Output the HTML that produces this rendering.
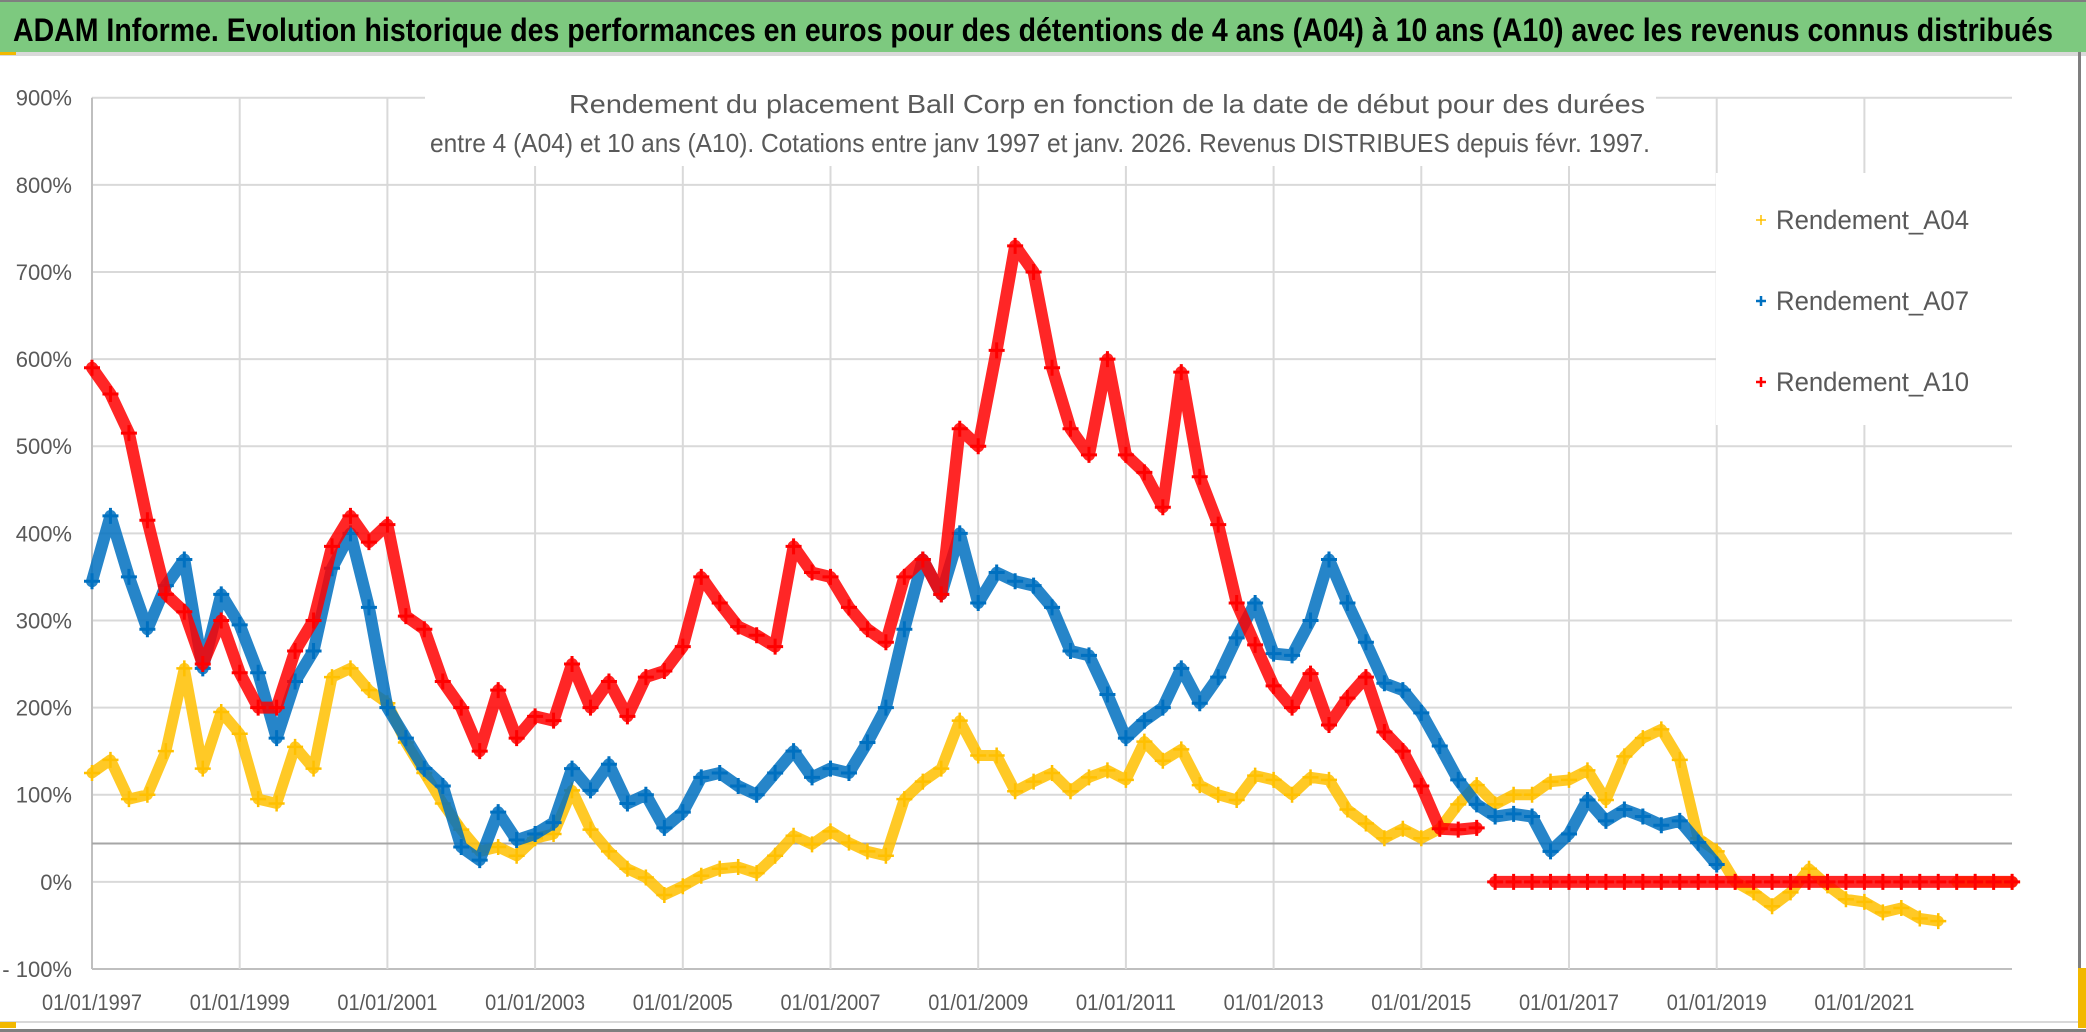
<!DOCTYPE html>
<html><head><meta charset="utf-8"><style>
html,body{margin:0;padding:0;background:#fff;}
svg{display:block;font-family:"Liberation Sans",sans-serif;}
</style></head><body>
<svg id="chart" width="2086" height="1032" viewBox="0 0 2086 1032" xmlns="http://www.w3.org/2000/svg">
<rect x="0" y="0" width="2086" height="1032" fill="#fff"/>
<rect x="0" y="0" width="2086" height="52" fill="#7dc97f"/>
<rect x="0" y="0" width="2086" height="2" fill="#7f7f7f"/>
<rect x="0" y="52" width="2086" height="4" fill="#d9d9d9"/>
<rect x="0" y="52" width="16" height="3" fill="#f2b800"/>
<text x="13" y="41" font-size="32" font-weight="bold" fill="#000" textLength="2040" lengthAdjust="spacingAndGlyphs">ADAM Informe. Evolution historique des performances en euros pour des détentions de 4 ans (A04) à 10 ans (A10) avec les revenus connus distribués</text>
<g id="grid"></g>
<g id="series"></g>
<rect x="425" y="80" width="1231" height="86" fill="#fff"/>
<text x="569" y="113" font-size="26" fill="#595959" textLength="1076" lengthAdjust="spacingAndGlyphs">Rendement du placement Ball Corp en fonction de la date de début pour des durées</text>
<text x="430" y="152" font-size="26" fill="#595959" textLength="1220" lengthAdjust="spacingAndGlyphs">entre 4 (A04) et 10 ans (A10). Cotations entre janv 1997 et janv. 2026. Revenus DISTRIBUES depuis févr. 1997.</text>
<rect x="1716" y="173" width="306" height="252" fill="#fff"/>
<g>
<path d="M1756 220h10M1761 215v10" stroke="#ffc000" stroke-width="1.5"/>
<text x="1776" y="229" font-size="27" fill="#595959" textLength="193" lengthAdjust="spacingAndGlyphs">Rendement_A04</text></g>
<g>
<path d="M1756 301h10M1761 296v10" stroke="#0070c0" stroke-width="2.5"/>
<text x="1776" y="310" font-size="27" fill="#595959" textLength="193" lengthAdjust="spacingAndGlyphs">Rendement_A07</text></g>
<g>
<path d="M1756 382h10M1761 377v10" stroke="#ff0000" stroke-width="2.5"/>
<text x="1776" y="391" font-size="27" fill="#595959" textLength="193" lengthAdjust="spacingAndGlyphs">Rendement_A10</text></g>
<rect x="0" y="1021" width="2086" height="2" fill="#d9d9d9"/>
<rect x="0" y="1029" width="2086" height="3" fill="#7f7f7f"/>
<rect x="0" y="1022" width="16" height="6" fill="#f2b800"/>
<rect x="2078" y="52" width="3" height="970" fill="#7f7f7f"/>
<rect x="2078" y="968" width="8" height="60" fill="#f2b800"/>
</svg>
<script>
// ---- data ----
const yTicks = [900,800,700,600,500,400,300,200,100,0,-100];
const yTickLabels = ["900%","800%","700%","600%","500%","400%","300%","200%","100%","0%","- 100%"];
const xTickYears = [1997,1999,2001,2003,2005,2007,2009,2011,2013,2015,2017,2019,2021];
const xTickLabels = ["01/01/1997","01/01/1999","01/01/2001","01/01/2003","01/01/2005","01/01/2007","01/01/2009","01/01/2011","01/01/2013","01/01/2015","01/01/2017","01/01/2019","01/01/2021"];
const refLineValue = 44;
const a04Start = 1997.0;
const a04Values = [125,140,95,100,150,245,130,195,170,95,90,155,130,235,245,220,205,160,125,90,60,35,40,30,50,55,105,60,35,15,5,-15,-5,7,15,17,10,30,53,43,58,45,35,30,95,115,130,185,145,145,104,115,125,104,120,128,117,161,139,152,111,100,94,122,117,100,120,117,83,67,50,61,50,61,89,111,89,100,100,115,117,128,94,144,165,175,140,50,35,0,-12,-28,-12,15,-4,-20,-23,-35,-30,-42,-45,0,0,0,0];
const a07Start = 1997.0;
const a07Values = [345,420,350,290,340,370,245,330,295,240,165,230,265,360,400,315,200,165,130,110,40,25,80,48,55,68,130,105,135,90,100,62,80,120,125,110,100,125,150,120,130,125,160,200,290,370,330,400,320,355,345,340,315,265,260,215,165,185,200,245,205,235,280,320,262,260,300,370,320,275,228,220,194,156,117,89,75,78,75,35,55,94,70,83,75,65,70,45,20];
const a10Start = 1997.0;
const a10Values = [590,560,515,415,330,310,250,300,240,200,200,265,300,385,420,390,410,305,290,230,200,150,220,165,190,185,250,200,230,190,235,242,270,350,320,293,283,270,385,355,350,315,290,275,350,370,330,520,500,610,730,700,590,520,490,600,490,470,430,585,465,410,320,272,225,200,239,180,211,235,172,150,110,61,60,62,0,0,0,0,0,0,0,0,0,0,0,0,0,0,0,0,0,0,0,0,0,0,0,0,0,0,0,0,0];
const stepYears = 0.25;

// ---- scales ----
const X0 = 92, PX_PER_YEAR = 73.85, PLOT_RIGHT = 2012;
const Y_TOP = 97.7, Y_BOTTOM = 969;
function xScale(year){ return X0 + (year - 1997) * PX_PER_YEAR; }
function yScale(v){ return Y_BOTTOM - (v + 100) / 1000 * (Y_BOTTOM - Y_TOP); }

const NS = "http://www.w3.org/2000/svg";
const grid = document.getElementById('grid');
const layer = document.getElementById('series');
function mk(tag, attrs, parent){
  const e = document.createElementNS(NS, tag);
  for (const k in attrs) e.setAttribute(k, attrs[k]);
  parent.appendChild(e);
  return e;
}

yTicks.forEach((v, i) => {
  const y = yScale(v);
  const ln = mk('line', {x1: X0, x2: PLOT_RIGHT, y1: y, y2: y, stroke: v === -100 ? '#bfbfbf' : '#d9d9d9', 'stroke-width': 2}, grid);
  
  
  const t = mk('text', {x: 72, y: y + 8, 'font-size': 22, fill: '#595959', 'text-anchor': 'end'}, grid);
  t.textContent = yTickLabels[i];
  
  
});
xTickYears.forEach((yr, i) => {
  const x = xScale(yr);
  const ln = mk('line', {x1: x, x2: x, y1: Y_TOP, y2: Y_BOTTOM, stroke: i === 0 ? '#bfbfbf' : '#d9d9d9', 'stroke-width': 2}, grid);
  
  
  const t = mk('text', {x: x, y: 1010, 'font-size': 22, fill: '#595959', 'text-anchor': 'middle', textLength: 100, lengthAdjust: 'spacingAndGlyphs'}, grid);
  t.textContent = xTickLabels[i];
  
  
});
{
  const ref = mk('line', {x1: X0, x2: PLOT_RIGHT, y1: yScale(refLineValue), y2: yScale(refLineValue), stroke: '#a6a6a6', 'stroke-width': 2}, grid);
  
  
}

function drawSeries(start, values, color, crossW, bandW, name){
  const g = mk('g', {}, layer);
  
  
  let seg = [];
  const segs = [];
  values.forEach((v, i) => {
    if (i > 0 && Math.abs(v - values[i-1]) > 40 && (v === 0 || values[i-1] === 0)) { segs.push(seg); seg = []; }
    seg.push([xScale(start + i * stepYears), yScale(v)]);
  });
  segs.push(seg);
  segs.forEach(s => {
    if (s.length < 2) return;
    const p = mk('polyline', {points: s.map(q => q.join(',')).join(' '), fill: 'none', stroke: color, 'stroke-width': bandW, 'stroke-linejoin': 'round', 'stroke-linecap': 'round', opacity: 0.85}, g);
    
    
  });
  values.forEach((v, i) => {
    const x = xScale(start + i * stepYears), y = yScale(v);
    const c = mk('path', {d: `M${x-8} ${y}h16M${x} ${y-8}v16`, stroke: color, 'stroke-width': crossW}, g);
    
    
  });
}
drawSeries(a04Start, a04Values, '#ffc000', 2.5, 11, 'series-a04');
drawSeries(a07Start, a07Values, '#0070c0', 3, 12, 'series-a07');
drawSeries(a10Start, a10Values, '#ff0000', 3, 12, 'series-a10');
</script>
</body></html>
